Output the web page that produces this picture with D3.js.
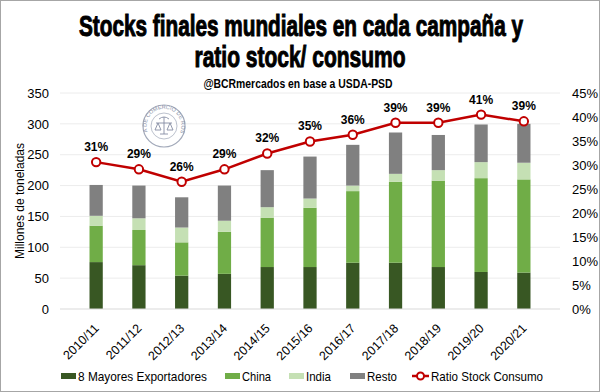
<!DOCTYPE html>
<html>
<head>
<meta charset="utf-8">
<script src="https://cdn.jsdelivr.net/npm/d3@7"></script>
<style>
  body { margin: 0; background: #fff; }
  text { font-family: "Liberation Sans", Arial, sans-serif; }
</style>
</head>
<body>
<div id="chart"></div>
<script>
// campaign labels
const campaigns = ["2010/11","2011/12","2012/13","2013/14","2014/15","2015/16","2016/17","2017/18","2018/19","2019/20","2020/21"];
// stocks, million tonnes
const exportadores = [76, 71, 54, 57, 68, 68, 75, 75, 68, 60, 59];
const china        = [59, 57, 54, 68, 80, 96, 116, 131, 140, 152, 151];
const india        = [16, 19, 24, 18, 17, 15, 9, 13, 17, 26, 27];
const resto        = [50, 53, 49, 57, 60, 68, 66, 67, 57, 61, 63];
// ratio stock / consumo (%)
const ratio = [30.6, 29.1, 26.5, 29.1, 32.4, 34.9, 36.3, 38.8, 38.8, 40.5, 39.1];
const ratioLabels = ["31%","29%","26%","29%","32%","35%","36%","39%","39%","41%","39%"];

const seriesNames = ["8 Mayores Exportadores", "China", "India", "Resto"];
const colors = ["#385723", "#70ad47", "#c5e0b4", "#808080"];
const lineColor = "#c00000";

const width = 600, height = 392;
const margin = { top: 93, right: 40, bottom: 83, left: 60 };

const svg = d3.select("#chart").append("svg")
    .attr("width", width).attr("height", height);

svg.append("rect")
    .attr("x", 0.5).attr("y", 0.5)
    .attr("width", width - 1).attr("height", height - 1)
    .attr("fill", "#fff").attr("stroke", "#a6a6a6");

// titles
const titleFont = "'Liberation Sans Narrow', 'Arial Narrow', sans-serif";
svg.append("text").attr("x", 301).attr("y", 36)
    .attr("text-anchor", "middle")
    .style("font-family", titleFont)
    .style("font-weight", "bold").style("font-size", "29px")
    .attr("stroke", "#000").attr("stroke-width", 1)
    .attr("textLength", 444).attr("lengthAdjust", "spacingAndGlyphs")
    .text("Stocks finales mundiales en cada campaña y");
svg.append("text").attr("x", 300).attr("y", 67)
    .attr("text-anchor", "middle")
    .style("font-family", titleFont)
    .style("font-weight", "bold").style("font-size", "29px")
    .attr("stroke", "#000").attr("stroke-width", 1)
    .attr("textLength", 211).attr("lengthAdjust", "spacingAndGlyphs")
    .text("ratio stock/ consumo");
svg.append("text").attr("x", 298).attr("y", 88)
    .attr("text-anchor", "middle")
    .style("font-family", titleFont)
    .style("font-weight", "bold").style("font-size", "12.5px")
    .attr("textLength", 189).attr("lengthAdjust", "spacingAndGlyphs")
    .text("@BCRmercados  en base a USDA-PSD");

const x = d3.scaleBand().domain(campaigns)
    .range([margin.left, width - margin.right]).padding(0.69);
const y = d3.scaleLinear().domain([0, 350])
    .range([height - margin.bottom, margin.top]);
const y2 = d3.scaleLinear().domain([0, 45])
    .range([height - margin.bottom, margin.top]);

// grid
svg.append("g")
    .selectAll("line").data(y.ticks(7).filter(d => d > 0))
    .join("line")
    .attr("x1", margin.left).attr("x2", width - margin.right)
    .attr("y1", d => y(d)).attr("y2", d => y(d))
    .attr("stroke", "#ececec");

// logo (seal watermark)
const logo = svg.append("g").attr("transform", "translate(164,126)").attr("opacity", 0.8);
logo.append("circle").attr("r", 21).attr("fill", "#fff").attr("stroke", "#8a93a8").attr("stroke-width", 1.2);
logo.append("circle").attr("r", 13).attr("fill", "none").attr("stroke", "#8a93a8").attr("stroke-width", 0.7);
logo.append("path").attr("id", "sealArc")
    .attr("d", "M -16.5 6 A 17.5 17.5 0 1 1 16.5 6").attr("fill", "none");
logo.append("text").style("font-size", "5.5px").attr("fill", "#6a7390")
    .append("textPath").attr("href", "#sealArc")
    .attr("startOffset", "50%").attr("text-anchor", "middle")
    .text("BOLSA DE COMERCIO DE ROSARIO");
logo.append("path").attr("d", "M -8 -3 L 8 -3 M 0 -9 L 0 8 M -6 -3 L -9 4 L -3 4 Z M 6 -3 L 3 4 L 9 4 Z M -4 8 L 4 8 M -5 -7 Q 0 -11 5 -7")
    .attr("fill", "none").attr("stroke", "#6a7390").attr("stroke-width", 0.9);

// stacked bars
const table = campaigns.map((c, i) => ({
  campaign: c,
  "8 Mayores Exportadores": exportadores[i],
  "China": china[i],
  "India": india[i],
  "Resto": resto[i]
}));
const stacked = d3.stack().keys(seriesNames)(table);

svg.append("g").selectAll("g").data(stacked).join("g")
    .attr("fill", (d, i) => colors[i])
  .selectAll("rect").data(d => d).join("rect")
    .attr("x", d => x(d.data.campaign))
    .attr("width", x.bandwidth())
    .attr("y", d => y(d[1]))
    .attr("height", d => y(d[0]) - y(d[1]));

// axis baseline
svg.append("line")
    .attr("x1", margin.left).attr("x2", width - margin.right)
    .attr("y1", y(0)).attr("y2", y(0))
    .attr("stroke", "#d9d9d9");

// left axis
const yAxis = svg.append("g")
    .attr("transform", `translate(${margin.left - 11},0)`)
    .call(d3.axisLeft(y).ticks(7).tickSize(0).tickPadding(0));
yAxis.select(".domain").remove();
yAxis.selectAll("text").style("font-size", "13px").attr("fill", "#000");

// right axis
const y2Axis = svg.append("g")
    .attr("transform", `translate(572,0)`)
    .call(d3.axisRight(y2).ticks(9).tickSize(0).tickPadding(0).tickFormat(d => d + "%"));
y2Axis.select(".domain").remove();
y2Axis.selectAll("text").style("font-size", "13px").attr("fill", "#000");

// y title
svg.append("text")
    .attr("transform", `translate(24,${(y(0) + y(350)) / 2}) rotate(-90)`)
    .attr("text-anchor", "middle")
    .style("font-size", "13px")
    .attr("textLength", 116).attr("lengthAdjust", "spacingAndGlyphs")
    .text("Millones de toneladas");

// x labels
svg.append("g").selectAll("text").data(campaigns).join("text")
    .attr("transform", d => `translate(${x(d) + x.bandwidth() / 2 + 3.5},${y(0) + 20}) rotate(-45)`)
    .attr("text-anchor", "end")
    .style("font-size", "12.5px")
    .text(d => d);

// ratio line
const cx = i => x(campaigns[i]) + x.bandwidth() / 2;
svg.append("path").datum(ratio)
    .attr("fill", "none").attr("stroke", lineColor).attr("stroke-width", 2.5)
    .attr("d", d3.line().x((d, i) => cx(i)).y(d => y2(d)));
svg.append("g").selectAll("circle").data(ratio).join("circle")
    .attr("cx", (d, i) => cx(i)).attr("cy", d => y2(d)).attr("r", 4.2)
    .attr("fill", "#fff").attr("stroke", lineColor).attr("stroke-width", 2);
svg.append("g").selectAll("text").data(ratio).join("text")
    .attr("x", (d, i) => cx(i)).attr("y", d => y2(d) - 11)
    .attr("text-anchor", "middle")
    .style("font-size", "12px").style("font-weight", "bold")
    .text((d, i) => ratioLabels[i]);

// legend
const legendItems = [
  { name: seriesNames[0], color: colors[0], x: 61, w: 129 },
  { name: seriesNames[1], color: colors[1], x: 225, w: 29 },
  { name: seriesNames[2], color: colors[2], x: 289, w: 25 },
  { name: seriesNames[3], color: colors[3], x: 350, w: 30 }
];
const legend = svg.append("g");
legendItems.forEach(it => {
  legend.append("rect").attr("x", it.x).attr("y", 373)
      .attr("width", 15).attr("height", 6).attr("fill", it.color);
  legend.append("text").attr("x", it.x + 17).attr("y", 381)
      .style("font-size", "13px")
      .attr("textLength", it.w).attr("lengthAdjust", "spacingAndGlyphs")
      .text(it.name);
});
legend.append("line").attr("x1", 412).attr("x2", 429).attr("y1", 376).attr("y2", 376)
    .attr("stroke", lineColor).attr("stroke-width", 2.5);
legend.append("circle").attr("cx", 420.5).attr("cy", 376).attr("r", 3.5)
    .attr("fill", "#fff").attr("stroke", lineColor).attr("stroke-width", 2);
legend.append("text").attr("x", 431).attr("y", 381)
    .style("font-size", "13px")
    .attr("textLength", 112).attr("lengthAdjust", "spacingAndGlyphs")
    .text("Ratio Stock Consumo");
</script>
</body>
</html>
